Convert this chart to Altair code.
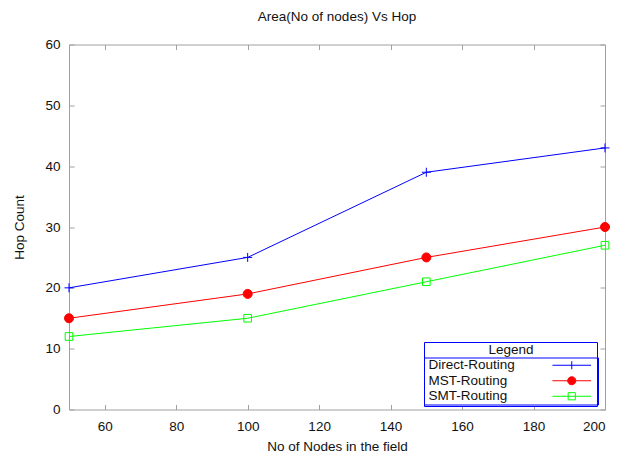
import altair as alt
import pandas as pd

nodes = [50, 100, 150, 200]
direct = [20, 25, 39, 43]
mst = [15, 19, 25, 30]
smt = [12, 15, 21, 27]
series_names = ["Direct-Routing", "MST-Routing", "SMT-Routing"]
series_colors = ["#0000ff", "#ff0000", "#00ff00"]
series_fills = ["rgba(0,0,0,0)", "#ff0000", "rgba(0,0,0,0)"]
x_ticks = [60, 80, 100, 120, 140, 160, 180, 200]
y_ticks = [0, 10, 20, 30, 40, 50, 60]

# marker glyphs (unit space, scaled by symbol size)
marker_shapes = ["M-1,0H1M0,-1V1", "circle", "M-0.85,-0.85H0.85V0.85H-0.85Z"]
legend_shapes = [
    "M-4.29,0H4.29M0,-0.9V0.9M5.02,0",
    "M-4.29,0H4.29M-0.9,0A0.9,0.9,0,1,0,0.9,0A0.9,0.9,0,1,0,-0.9,0ZM5.02,0",
    "M-4.29,0H4.29M-0.8,-0.8H0.8V0.8H-0.8ZM5.02,0",
]

rows = []
for name, vals in zip(series_names, [direct, mst, smt]):
    for n, v in zip(nodes, vals):
        rows.append({"nodes": n, "hops": v, "series": name})
df = pd.DataFrame(rows)

FONT = "Liberation Sans"
FS = 13.5
GRAY = "#a0a0a0"
TXT = "#111111"
inward = alt.ExprRef(expr="-5")

xscale = alt.Scale(domain=[50, 200], nice=False, zero=False)
yscale = alt.Scale(domain=[0, 60], nice=False)
stroke_scale = alt.Scale(domain=series_names, range=series_colors)
fill_scale = alt.Scale(domain=series_names, range=series_fills)

lines = alt.Chart(df).mark_line(strokeWidth=1).encode(
    x=alt.X("nodes:Q", scale=xscale, axis=alt.Axis(
        orient="bottom", values=x_ticks, title="No of Nodes in the field",
        tickSize=inward, labelPadding=15, titleY=37, titleBaseline="middle")),
    y=alt.Y("hops:Q", scale=yscale, axis=alt.Axis(
        orient="left", values=y_ticks, title="Hop Count",
        tickSize=inward, labelPadding=14, titleX=-50, titleY=182.5,
        titleAngle=-90, titleBaseline="middle", titleAlign="center")),
    stroke=alt.Stroke("series:N", scale=stroke_scale, legend=None),
    detail="series:N",
)

points = alt.Chart(df).mark_point(filled=True, opacity=1, strokeWidth=1, size=81).encode(
    x=alt.X("nodes:Q", scale=xscale, axis=alt.Axis(
        orient="top", values=x_ticks, labels=False, title=None, tickSize=inward)),
    y=alt.Y("hops:Q", scale=yscale, axis=alt.Axis(
        orient="right", values=y_ticks, labels=False, title=None, tickSize=inward)),
    stroke=alt.Stroke("series:N", scale=stroke_scale, legend=None),
    fill=alt.Fill("series:N", scale=fill_scale, legend=None),
    shape=alt.Shape("series:N", scale=alt.Scale(domain=series_names, range=marker_shapes), legend=None),
)

# entries: only its top edge (the separator under "Legend") is needed
legend_entries = alt.Legend(
    title=None, orient="none", legendX=355, legendY=313,
    padding=1, strokeColor="#0000ff", cornerRadius=0, zindex=1,
    symbolSize=81, symbolStrokeWidth=1, symbolOffset=140,
    labelOffset=alt.ExprRef(expr="-150"),
    labelFont=FONT, labelFontSize=FS, labelColor=TXT, rowPadding=0.5,
    symbolOpacity=1, labelLimit=300,
)

legend_layer = alt.Chart(df).transform_filter("false").mark_point(
    filled=True, opacity=1, strokeWidth=1).encode(
    stroke=alt.Stroke("series:N", scale=stroke_scale, legend=legend_entries),
    fill=alt.Fill("series:N", scale=fill_scale, legend=legend_entries),
    shape=alt.Shape("series:N", scale=alt.Scale(domain=series_names, range=legend_shapes),
                    legend=legend_entries),
)

# outer box of the whole legend, with the "Legend" header
legend_header = alt.Legend(
    title="Legend", orient="none", legendX=355, legendY=297.5,
    padding=1, strokeColor="#0000ff", fillColor="#ffffff", cornerRadius=0, zindex=0,
    titleFont=FONT, titleFontSize=FS, titleFontWeight="normal", titleColor=TXT,
    titleAnchor="middle", titlePadding=47,
    symbolSize=1, symbolStrokeWidth=0, symbolOpacity=0, symbolOffset=170,
    labelExpr="''", labelFontSize=1, labelOffset=0,
)

header_layer = alt.Chart(df).transform_filter("false").mark_point(opacity=1).encode(
    shape=alt.Shape("series:N", scale=alt.Scale(domain=["hdr"], range=["circle"]),
                    legend=legend_header),
)

chart = alt.layer(lines, points, header_layer, legend_layer).resolve_scale(
    stroke="independent", fill="independent", shape="independent"
).resolve_axis(
    x="independent", y="independent"
).properties(
    width=536, height=365,
    autosize="none",
    padding={"left": 61, "top": 36.5, "right": 10, "bottom": 45},
    title=alt.TitleParams("Area(No of nodes) Vs Hop", font=FONT, fontSize=FS,
                          fontWeight="normal", color=TXT, frame="group",
                          anchor="middle", offset=14),
).configure_axis(
    grid=False, domainColor=GRAY, tickColor=GRAY, domainWidth=1, tickWidth=1,
    labelFont=FONT, labelFontSize=FS, labelColor=TXT,
    titleFont=FONT, titleFontSize=FS, titleFontWeight="normal", titleColor=TXT,
).configure_view(stroke=None)

chart.save("out.html", embed_options={"renderer": "svg", "actions": False})
